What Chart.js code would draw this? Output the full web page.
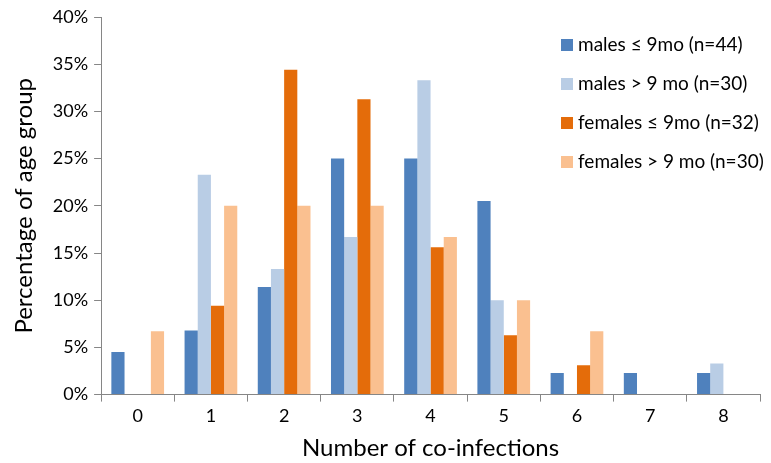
<!DOCTYPE html>
<html>
<head>
<meta charset="utf-8">
<script src="https://cdn.jsdelivr.net/npm/chart.js@4/dist/chart.umd.min.js"></script>
<style>
  html, body { margin: 0; padding: 0; background: #fff; }
  #wrap { width: 771px; height: 463px; }
</style>
</head>
<body>
<div id="wrap"><canvas id="coinfChart" width="771" height="463"></canvas></div>
<script>
// Number of co-infections (x categories)
const CATEGORIES = ["0", "1", "2", "3", "4", "5", "6", "7", "8"];

// Percent of each age group
const MALES_LE9 = [4.5, 6.8, 11.4, 25.0, 25.0, 20.5, 2.3, 2.3, 2.3];
const MALES_GT9 = [0, 23.3, 13.3, 16.7, 33.3, 10.0, 0, 0, 3.3];
const FEMALES_LE9 = [0, 9.4, 34.4, 31.3, 15.6, 6.3, 3.1, 0, 0];
const FEMALES_GT9 = [6.7, 20.0, 20.0, 20.0, 16.7, 10.0, 6.7, 0, 0];

const SERIES_LABELS = [
  "males \u2264 9mo (n=44)",
  "males > 9 mo (n=30)",
  "females \u2264 9mo (n=32)",
  "females > 9 mo (n=30)"
];
const SERIES_COLORS = ["#4F81BD", "#B9CDE5", "#E46C0A", "#FAC090"];

const FONT = "Lato, 'Open Sans', sans-serif";
const AXIS_GREY = "#868686";

// legend drawn over the plot, top right like the original
const insideLegend = {
  id: "insideLegend",
  afterDraw(chart) {
    const ctx = chart.ctx;
    ctx.save();
    ctx.font = "19px " + FONT;
    ctx.textBaseline = "middle";
    chart.data.datasets.forEach((ds, i) => {
      const y = 45 + i * 39;
      ctx.fillStyle = ds.backgroundColor;
      ctx.fillRect(561, y - 6, 12, 12);
      ctx.fillStyle = "#000";
      ctx.fillText(ds.label, 578, y);
    });
    ctx.restore();
  }
};

const datasets = [MALES_LE9, MALES_GT9, FEMALES_LE9, FEMALES_GT9].map((vals, i) => ({
  label: SERIES_LABELS[i],
  data: vals,
  backgroundColor: SERIES_COLORS[i],
  borderWidth: 0
}));

new Chart(document.getElementById("coinfChart").getContext("2d"), {
  type: "bar",
  data: { labels: CATEGORIES, datasets },
  options: {
    responsive: false,
    animation: false,
    layout: { padding: { top: 17, right: 11, left: 10, bottom: 0 } },
    datasets: { bar: { barPercentage: 1.0, categoryPercentage: 0.72 } },
    plugins: {
      legend: { display: false },
      tooltip: { enabled: false }
    },
    scales: {
      x: {
        grid: {
          display: true,
          drawOnChartArea: false,
          offset: true,
          color: AXIS_GREY,
          tickLength: 7
        },
        border: { color: AXIS_GREY },
        ticks: { color: "#000", font: { family: FONT, size: 18 }, padding: 4 },
        title: {
          display: true,
          text: "Number of co-infections",
          color: "#000",
          font: { family: FONT, size: 24 },
          padding: { top: 3, bottom: 0 }
        }
      },
      y: {
        min: 0,
        max: 40,
        grid: {
          display: true,
          drawOnChartArea: false,
          color: AXIS_GREY,
          tickLength: 7
        },
        border: { color: AXIS_GREY },
        ticks: {
          stepSize: 5,
          color: "#000",
          font: { family: FONT, size: 18 },
          padding: 6,
          callback: v => v + "%"
        },
        title: {
          display: true,
          text: "Percentage of age group",
          color: "#000",
          font: { family: FONT, size: 24 },
          padding: { top: 0, bottom: 8 }
        }
      }
    }
  },
  plugins: [insideLegend]
});
</script>
</body>
</html>
